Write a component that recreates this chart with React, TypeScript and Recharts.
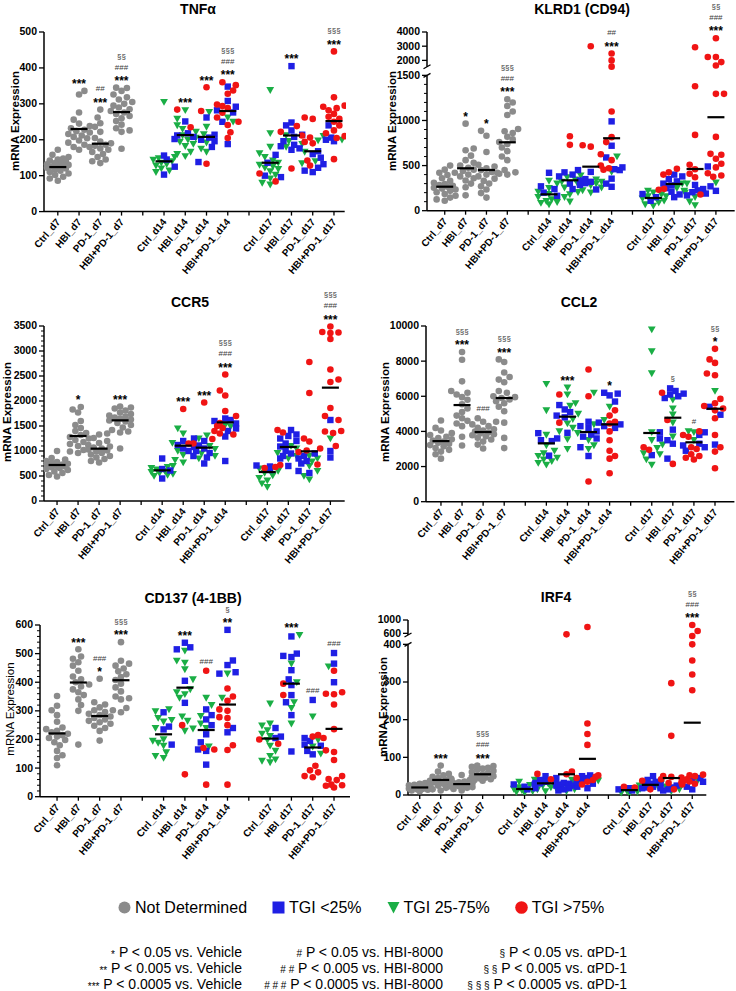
import React from 'react'
import { ScatterChart, Scatter, XAxis, YAxis, ReferenceLine } from 'recharts'

const FONT = '"Liberation Sans", Arial, Helvetica, sans-serif'

const GRAY = '#8b8b8b'
const BLUE = '#1f1fe4'
const GREEN = '#1aae45'
const RED = '#f01414'

const CATEGORIES = [
  'Ctrl_d7', 'HBI_d7', 'PD-1_d7', 'HBI+PD-1_d7',
  'Ctrl_d14', 'HBI_d14', 'PD-1_d14', 'HBI+PD-1_d14',
  'Ctrl_d17', 'HBI_d17', 'PD-1_d17', 'HBI+PD-1_d17',
]

// ---------- TNFα ----------
const tnfNd = [
  [172, 158, 152, 148, 145, 142, 140, 137, 135, 132, 130, 128, 126, 124, 122, 120, 117, 114, 110, 106, 102, 97, 92, 86],
  [336, 326, 276, 256, 245, 238, 232, 228, 224, 220, 216, 212, 208, 204, 198, 192, 186, 180, 172],
  [284, 262, 246, 236, 222, 205, 195, 190, 186, 183, 180, 176, 172, 166, 160, 152, 145, 140, 135],
  [345, 344, 336, 326, 318, 312, 305, 300, 295, 290, 285, 280, 276, 272, 266, 260, 252, 242, 232, 226, 222, 175],
]
const tnfLow = [
  [156, 145, 125, 103],
  [251, 218, 212, 208, 202],
  [262, 214, 206, 200, 196, 180, 138],
  [348, 308, 292, 282, 276, 250, 188],
  [158, 136, 100, 96],
  [405, 248, 240, 226, 214, 208, 196, 186, 182, 176, 172],
  [168, 160, 150, 132, 122, 114, 110],
  [240, 206, 200, 196],
]
const tnfMid = [
  [305, 152, 148, 144, 140, 136, 132, 128, 120, 114, 110],
  [282, 258, 240, 230, 222, 212, 200, 194, 188, 182, 166, 160, 154],
  [277, 236, 215, 205, 192, 175, 166],
  [262, 250],
  [338, 218, 180, 162, 152, 142, 136, 130, 126, 122, 118, 112, 102, 92, 80, 75],
  [212, 196, 188, 180],
  [210, 198, 166, 140, 134],
  [200],
]
const tnfHigh = [
  [],
  [284, 235],
  [346, 280, 133],
  [360, 352, 337, 328, 298, 294, 288, 275, 262, 250, 241, 221, 205],
  [106, 84],
  [238, 222, 120],
  [262, 258, 212, 206, 194, 190, 142, 128],
  [446, 318, 295, 292, 288, 282, 272, 264, 258, 250, 240, 226, 218, 210, 205, 146],
]
const tnfMean = [124, 230, 189, 277, 140, 213, 208, 280, 136, 212, 168, 252]
const tnfSig = [[], ['***'], ['##', '***'], ['§§', '###', '***'], [], ['***'], ['***'], ['§§§', '###', '***'], [], ['***'], [], ['§§§', '***']]

// ---------- KLRD1 (CD94) ----------
const klrdNd = [
  [500, 455, 420, 395, 360, 330, 310, 295, 285, 275, 265, 255, 245, 235, 220, 205, 185, 165, 145, 125, 110],
  [965, 690, 670, 610, 560, 530, 500, 475, 455, 440, 420, 400, 380, 360, 335, 300, 260, 170],
  [885, 830, 650, 510, 490, 470, 450, 430, 420, 400, 380, 355, 330, 300, 270, 235, 195, 145],
  [1235, 1200, 1160, 1100, 1060, 905, 880, 860, 820, 790, 760, 740, 700, 660, 600, 560, 450, 425, 410, 400],
]
const klrdLow = [
  [420, 270, 240, 200, 165],
  [450, 425, 400, 380, 300, 240],
  [430, 350, 335, 320, 305, 285, 235],
  [990, 720, 590, 480, 460, 450, 355, 300, 265],
  [185, 150, 110],
  [400, 380, 350, 325, 300, 280, 250, 210, 180, 150],
  [285, 240, 225, 205, 190, 170],
  [490, 270, 220],
]
const klrdMid = [
  [330, 300, 250, 210, 185, 150, 125, 105, 95, 85, 70],
  [390, 370, 345, 320, 295, 255, 205, 180, 150, 100],
  [345, 320, 300, 280, 255, 225, 200],
  [600, 430],
  [220, 200, 180, 160, 135, 110, 90, 70, 55],
  [300, 250, 200, 160],
  [300, 220, 150, 100, 60],
  [310],
]
const klrdHigh = [
  [],
  [825, 730],
  [3000, 725, 710],
  [2490, 2000, 1560, 1100, 815, 760, 625, 560, 500, 470, 455],
  [242, 232],
  [465, 425, 400],
  [2930, 1380, 840, 510, 460, 410, 370, 180],
  [3560, 2240, 2240, 1880, 1640, 1295, 1295, 818, 630, 620, 575, 520, 480, 415, 390, 375],
]
const klrdMean = [266, 470, 451, 758, 181, 337, 488, 803, 141, 296, 462, 1036]
const klrdSig = [[], ['*'], ['*'], ['§§§', '###', '***'], [], [], [], ['##', '***'], [], [], [], ['§§', '###', '***']]

// ---------- CCR5 ----------
const ccr5Nd = [
  [1000, 860, 830, 800, 780, 760, 745, 730, 715, 700, 690, 675, 660, 640, 620, 590, 560, 520, 490],
  [1880, 1830, 1770, 1600, 1520, 1460, 1400, 1360, 1320, 1280, 1250, 1220, 1180, 1140, 1100, 1060, 1020, 990, 960],
  [1350, 1330, 1260, 1200, 1160, 1120, 1090, 1070, 1050, 1030, 1010, 990, 960, 930, 900, 870, 840, 800, 770],
  [1890, 1870, 1850, 1810, 1770, 1740, 1710, 1690, 1670, 1650, 1630, 1610, 1590, 1560, 1520, 1470, 1420, 1390, 1370, 1050],
]
const ccr5Low = [
  [850, 640, 610, 450],
  [1250, 1200, 1120, 1080, 1050, 1000],
  [1200, 1110, 1050, 1000, 960, 900, 870, 750],
  [1650, 1620, 1600, 1550, 1450, 1400, 1290, 800],
  [710, 690, 620],
  [1420, 1330, 1300, 1250, 1200, 1150, 1090, 1000, 950, 900, 850, 700],
  [950, 900, 850, 800, 750, 600, 560],
  [1620, 1000, 870],
]
const ccr5Mid = [
  [700, 680, 660, 630, 600, 580, 560, 540, 520, 500],
  [1450, 1350, 1160, 1000, 920, 820, 770],
  [1310, 1250, 1100, 1040, 950, 900, 850],
  [1520, 1490],
  [650, 600, 560, 510, 460, 410, 350, 280],
  [1100, 1050, 960, 900, 850],
  [900, 850, 790, 700, 600, 500, 430],
  [1250],
]
const ccr5High = [
  [],
  [1840, 1150],
  [1970, 1240, 1150],
  [2530, 2210, 2110, 1800, 1700, 1560, 1500, 1460, 1400, 1350, 1330],
  [680, 660],
  [1420, 1370, 720],
  [2780, 2160, 1250, 1190, 1050, 1010, 980, 730],
  [3490, 3380, 3370, 3360, 3240, 2630, 2430, 2380, 1860, 1700, 1620, 1400, 1390, 1360, 1100],
]
const ccr5Mean = [720, 1300, 1047, 1613, 613, 1107, 1067, 1573, 580, 1080, 993, 2267]
const ccr5Sig = [[], ['*'], [], ['***'], [], ['***'], ['***'], ['§§§', '###', '***'], [], [], [], ['§§§', '###', '***']]

// ---------- CCL2 ----------
const ccl2Nd = [
  [4620, 4200, 4050, 3900, 3800, 3700, 3620, 3550, 3480, 3420, 3360, 3300, 3220, 3150, 3050, 2950, 2850, 2700, 2450],
  [8520, 8080, 6850, 6300, 6200, 6100, 5950, 5800, 5550, 5300, 5100, 4900, 4750, 4600, 4450, 4300, 3700, 3200],
  [4750, 4550, 4400, 4300, 4200, 4120, 4050, 3990, 3940, 3890, 3840, 3780, 3720, 3640, 3540, 3420, 3250, 3030],
  [8100, 7950, 7350, 7100, 6950, 6800, 6300, 6200, 6000, 5950, 5900, 5820, 5720, 5600, 5400, 5150, 4550, 4500, 3630, 3050],
]
const ccl2Low = [
  [3900, 3600, 3500, 3450, 2620],
  [5500, 5250, 5100, 4900, 4800, 3920],
  [4550, 4300, 4200, 4000, 3820, 3700, 3600, 3100, 2600],
  [6200, 6150, 6050, 5700, 4500, 4400, 4300, 4200],
  [3950, 3600, 2650],
  [6450, 6300, 6150, 6100, 6000, 5900, 4100, 3500, 3300, 2450],
  [3950, 3800, 3300, 3200, 3100, 2900],
  [5400, 4950, 3250],
]
const ccl2Mid = [
  [6700, 5200, 3800, 3200, 2900, 2750, 2600, 2500, 2400, 2300, 2200, 2100],
  [6500, 6100, 5600, 5450, 5000, 4700, 4450, 4200, 4000, 3550, 3000],
  [6200, 4400, 3900, 3500, 3200, 3000],
  [5400, 4650],
  [9800, 8550, 7300, 3950, 3500, 3250, 3050, 2750, 2700, 2400, 2100],
  [5800, 5300, 4950, 4500, 3700],
  [4000, 3950, 3500],
  [6300],
]
const ccl2High = [
  [],
  [6100, 4500],
  [7520, 6000, 1150],
  [5200, 4900, 4550, 4450, 4000, 3500, 2900, 2600, 2450, 1620],
  [3100, 2950],
  [6200, 4650, 2150],
  [4000, 3800, 3700, 3100, 3000, 2700, 2600, 2500, 2400],
  [8700, 8100, 7900, 7300, 7200, 5850, 5600, 5450, 5300, 5200, 4750, 3800, 3100, 2850, 1900],
]
const ccl2Mean = [3450, 5500, 3965, 5900, 3320, 4840, 3965, 4400, 3910, 4780, 3380, 5290]
const ccl2Sig = [[], ['§§§', '***'], ['###'], ['§§§', '***'], [], ['***'], [], ['*'], [], ['§'], ['#'], ['§§', '*']]

// ---------- CD137 (4-1BB) ----------
const cd137Nd = [
  [352, 318, 302, 285, 262, 242, 236, 230, 225, 220, 215, 210, 205, 198, 190, 180, 160, 145, 135, 110],
  [515, 490, 482, 470, 458, 440, 420, 410, 400, 392, 385, 375, 365, 355, 340, 320, 300, 182],
  [412, 330, 322, 312, 302, 296, 290, 285, 280, 275, 270, 265, 260, 255, 248, 240, 230, 196],
  [540, 475, 465, 458, 448, 438, 428, 418, 408, 395, 382, 368, 350, 344, 340, 310, 302, 295],
]
const cd137Low = [
  [295, 245, 235, 182],
  [538, 522, 515, 405, 328],
  [305, 285, 270, 250, 218, 190, 165, 160, 112],
  [583, 476, 460, 435, 430, 240, 225],
  [240, 210, 205],
  [560, 500, 492, 488, 442, 410, 390, 355, 330, 285, 158],
  [338, 205, 195, 182, 178, 160, 148],
  [502, 465, 400],
]
const cd137Mid = [
  [305, 298, 275, 268, 262, 240, 200, 195, 188, 178, 155, 142, 135],
  [510, 475, 468, 445, 410, 375, 365, 358, 345, 280, 265, 238, 230],
  [345, 320, 282, 255, 240, 175],
  [430, 345],
  [325, 255, 248, 232, 220, 212, 198, 178, 160, 142, 130, 125, 120],
  [565, 465, 400, 330, 310, 255],
  [280, 198, 175, 150],
  [455],
]
const cd137High = [
  [],
  [250, 78],
  [440, 170, 165, 42],
  [378, 350, 335, 305, 300, 278, 275, 250, 180, 163, 42],
  [200, 185],
  [395, 355],
  [215, 210, 205, 108, 92, 85, 72, 68],
  [440, 365, 360, 358, 322, 236, 162, 156, 128, 72, 62, 58, 42, 40, 38, 32],
]
const cd137Mean = [221, 399, 282, 407, 218, 381, 233, 322, 203, 395, 172, 237]
const cd137Sig = [[], ['***'], ['###', '*'], ['§§§', '***'], [], ['***'], ['###'], ['§', '**'], [], ['***'], ['###'], ['###']]

// ---------- IRF4 ----------
const irf4Nd = [
  [32, 30, 28, 27, 26, 25, 24, 23, 22, 21, 20, 19, 18, 17, 16, 15, 14, 12, 10],
  [78, 62, 56, 52, 48, 45, 42, 40, 38, 36, 34, 32, 30, 28, 25, 22, 19, 15, 12],
  [53, 44, 40, 36, 34, 32, 31, 30, 29, 28, 27, 26, 25, 23, 21, 19, 16, 12],
  [78, 77, 75, 72, 70, 67, 64, 61, 58, 55, 52, 50, 48, 46, 44, 42, 40, 38],
]
const irf4Low = [
  [32, 28, 22, 18, 15],
  [50, 45, 40, 35, 31, 28, 25],
  [35, 32, 30, 28, 25, 22, 20, 18, 15, 12],
  [52, 50, 45, 40, 35, 30, 18],
  [18, 15, 12],
  [50, 40, 35, 30, 26, 22, 20, 18],
  [30, 25, 20, 18, 15, 12],
  [45, 40, 35, 22, 15],
]
const irf4Mid = [
  [35, 26, 20, 16, 13, 10, 8, 6],
  [40, 35, 30, 25, 20, 15, 10],
  [45, 40, 30, 25, 20, 15, 10],
  [38],
  [16, 12, 9, 6, 4],
  [30, 25, 20],
  [22, 15, 10],
  [38],
]
const irf4High = [
  [],
  [56, 42],
  [570, 62, 55],
  [790, 190, 162, 133, 52, 48, 45, 40, 35, 28],
  [22, 20],
  [42, 38, 15],
  [297, 157, 50, 48, 32, 28, 15],
  [850, 670, 520, 400, 357, 320, 278, 54, 52, 50, 46, 42, 38, 36, 34, 30],
]
const irf4Mean = [20, 40, 29, 55, 16, 31, 55, 96, 13, 27, 45, 192]
const irf4Sig = [[], ['***'], [], ['§§§', '###', '***'], [], [], [], [], [], [], [], ['§§', '###', '***']]

// broken axes: lower part linear, upper part compressed
const klrdScale = (v: number) => (v <= 1525 ? v : 1666 + (v - 2000) * 0.1573)
const irf4Scale = (v: number) => (v <= 450 ? v : 429.2 + (v - 600) * 0.0885)
const linear = (v: number) => v

const range = (a: number, b: number, step: number, skip: number) => {
  const out: number[] = []
  for (let v = a; v <= b; v += step) if (v % skip !== 0) out.push(v)
  return out
}

type Kind = 'nd' | 'low' | 'mid' | 'high'

interface PanelDef {
  title: string
  titleAt: [number, number]
  yLabelAt: [number, number]
  yLabelBold: boolean
  box: { l: number; r: number; t: number; b: number }
  xDomain: [number, number]
  toDisp: (v: number) => number
  yMax: number
  majors: number[]
  minors: number[]
  segments?: [number, number][]
  nd: number[][]
  low: number[][]
  mid: number[][]
  high: number[][]
  mean: number[]
  sig: string[][]
}

const PANELS: PanelDef[] = [
  {
    title: 'TNFα', titleAt: [198, 9], yLabelAt: [16, 121], yLabelBold: true,
    box: { l: 44.3, r: 345, t: 31.7, b: 211.3 }, xDomain: [-0.65, 13.4],
    toDisp: linear, yMax: 500, majors: [0, 100, 200, 300, 400, 500], minors: [],
    nd: tnfNd, low: tnfLow, mid: tnfMid, high: tnfHigh, mean: tnfMean, sig: tnfSig,
  },
  {
    title: 'KLRD1 (CD94)', titleAt: [582, 9], yLabelAt: [393, 121], yLabelBold: true,
    box: { l: 427.3, r: 735, t: 32, b: 210.7 }, xDomain: [-0.85, 13.9],
    toDisp: klrdScale, yMax: 4000, majors: [0, 500, 1000, 1500, 2000, 3000, 4000],
    minors: range(0, 1500, 100, 500), segments: [[0, 1500], [1550, 4000]],
    nd: klrdNd, low: klrdLow, mid: klrdMid, high: klrdHigh, mean: klrdMean, sig: klrdSig,
  },
  {
    title: 'CCR5', titleAt: [190, 302], yLabelAt: [8, 412], yLabelBold: true,
    box: { l: 44.3, r: 345, t: 325.7, b: 500.7 }, xDomain: [-0.62, 13.68],
    toDisp: linear, yMax: 3500, majors: [0, 500, 1000, 1500, 2000, 2500, 3000, 3500],
    minors: range(0, 3500, 100, 500),
    nd: ccr5Nd, low: ccr5Low, mid: ccr5Mid, high: ccr5High, mean: ccr5Mean, sig: ccr5Sig,
  },
  {
    title: 'CCL2', titleAt: [579, 302], yLabelAt: [386, 412], yLabelBold: true,
    box: { l: 426.3, r: 734.7, t: 326, b: 501.7 }, xDomain: [-0.71, 13.92],
    toDisp: linear, yMax: 10000, majors: [0, 2000, 4000, 6000, 8000, 10000], minors: [],
    nd: ccl2Nd, low: ccl2Low, mid: ccl2Mid, high: ccl2High, mean: ccl2Mean, sig: ccl2Sig,
  },
  {
    title: 'CD137 (4-1BB)', titleAt: [193, 598], yLabelAt: [11, 709], yLabelBold: false,
    box: { l: 40, r: 350, t: 625, b: 796.7 }, xDomain: [-0.8, 13.75],
    toDisp: linear, yMax: 600, majors: [0, 100, 200, 300, 400, 500, 600],
    minors: range(0, 600, 20, 100),
    nd: cd137Nd, low: cd137Low, mid: cd137Mid, high: cd137High, mean: cd137Mean, sig: cd137Sig,
  },
  {
    title: 'IRF4', titleAt: [556, 597], yLabelAt: [384, 707], yLabelBold: true,
    box: { l: 408, r: 706.3, t: 620, b: 795 }, xDomain: [-0.56, 13.67],
    toDisp: irf4Scale, yMax: 1000, majors: [0, 100, 200, 300, 400, 600, 1000], minors: [],
    segments: [[0, 400], [550, 1000]],
    nd: irf4Nd, low: irf4Low, mid: irf4Mid, high: irf4High, mean: irf4Mean, sig: irf4Sig,
  },
]

const slotOf = (i: number) => i + Math.floor(i / 4)
const X_TICKS = Array.from({ length: 14 }, (_, i) => i)
const keyOf = (d: number) => Math.round(d * 1000)

interface Item { v: number; k: Kind; dx: number; py: number }

function groupItems(def: PanelDef, i: number): Item[] {
  const mk = (vals: number[], k: Kind) => vals.map(v => ({ v, k, dx: 0, py: 0 }))
  if (i < 4) return mk(def.nd[i], 'nd')
  const j = i - 4
  return [...mk(def.mid[j], 'mid'), ...mk(def.low[j], 'low'), ...mk(def.high[j], 'high')]
}

// simple beeswarm: spread points sideways so they don't sit on top of each other
function swarm(items: Item[], toDisp: (v: number) => number, yPx: number) {
  items.forEach(it => { it.py = toDisp(it.v) * yPx })
  const order = [...items].sort((a, b) => a.py - b.py)
  const placed: Item[] = []
  const STEP = 2.7, MAXN = 4, MIND = 6
  order.forEach((it, n) => {
    let best = 0
    let bestD = -1
    for (let i = 0; i <= MAXN * 2; i++) {
      const mag = Math.ceil(i / 2) * STEP
      const sign = (i % 2 === 1) === (n % 2 === 0) ? 1 : -1
      const off = i === 0 ? 0 : mag * sign
      let d = Infinity
      for (const p of placed) d = Math.min(d, Math.hypot(p.dx - off, p.py - it.py))
      if (d >= MIND) { best = off; bestD = d; break }
      if (d > bestD) { bestD = d; best = off }
    }
    it.dx = best
    placed.push(it)
  })
  return items
}

const grayDot = (p: any) => <circle cx={p.cx} cy={p.cy} r={3.3} fill={GRAY} />
const redDot = (p: any) => <circle cx={p.cx} cy={p.cy} r={3.3} fill={RED} />
const blueSquare = (p: any) => <rect x={p.cx - 3.2} y={p.cy - 3.2} width={6.4} height={6.4} fill={BLUE} />
const greenTri = (p: any) => (
  <polygon points={`${p.cx - 3.9},${p.cy - 3.1} ${p.cx + 3.9},${p.cy - 3.1} ${p.cx},${p.cy + 3.8}`} fill={GREEN} />
)
const meanBar = (p: any) => (
  <line x1={p.cx - 8.5} x2={p.cx + 8.5} y1={p.cy} y2={p.cy} stroke="#000" strokeWidth={2.2} />
)
const noteShape = (p: any) => {
  const lines: string[] = p.payload?.lines ?? p.lines ?? []
  const n = lines.length
  return (
    <g>
      {lines.map((s, j) => {
        const c = p.cy - 10 - (n - 1 - j) * 11
        const star = s.startsWith('*')
        const fs = star ? 12 : 8
        return (
          <text key={j} x={p.cx} y={c + (star ? 0.6 : 0.36) * fs} textAnchor="middle" fontFamily={FONT}
            fontSize={fs} fontWeight={star ? 700 : 400} fill={star ? '#000' : '#3c3c3c'}>
            {s}
          </text>
        )
      })}
    </g>
  )
}

function XTick(props: any) {
  const { x, y, payload } = props
  const slot = payload.value as number
  const idx = slot % 5 === 4 ? -1 : slot - Math.floor(slot / 5)
  const label = idx >= 0 ? CATEGORIES[idx] : ''
  const ax = x + 1, ay = y + 9
  return (
    <g>
      <line x1={x} x2={x} y1={y} y2={y + 4} stroke="#000" strokeWidth={1.3} />
      {label && (
        <text x={ax} y={ay} transform={`rotate(-50 ${ax} ${ay})`} textAnchor="end" dominantBaseline="middle"
          fontFamily={FONT} fontSize={10} fontWeight={700} fill="#000">
          {label}
        </text>
      )}
    </g>
  )
}

function YTick(props: any) {
  const { x, y, payload, labels } = props
  const label = labels.get(keyOf(payload.value))
  if (label === undefined) {
    return <line x1={x - 3} x2={x} y1={y} y2={y} stroke="#000" strokeWidth={1} />
  }
  return (
    <g>
      <line x1={x - 5} x2={x} y1={y} y2={y} stroke="#000" strokeWidth={1.3} />
      <text x={x - 7} y={y} textAnchor="end" dominantBaseline="central" fontFamily={FONT}
        fontSize={10.5} fontWeight={700} fill="#000">
        {label}
      </text>
    </g>
  )
}

function Panel({ def }: { def: PanelDef }) {
  const { box, xDomain, toDisp } = def
  const YW = 40, MT = 40, XH = 80, MR = 1
  const left = box.l - YW
  const top = box.t - MT
  const width = box.r - left + MR
  const height = box.b - top + XH
  const slotPx = (box.r - box.l) / (xDomain[1] - xDomain[0])
  const yTop = toDisp(def.yMax)
  const yPx = (box.b - box.t) / yTop

  const pts: Record<Kind, { x: number; y: number }[]> = { nd: [], low: [], mid: [], high: [] }
  const tops: number[] = []
  CATEGORIES.forEach((_, i) => {
    const items = swarm(groupItems(def, i), toDisp, yPx)
    items.forEach(it => pts[it.k].push({ x: slotOf(i) + it.dx / slotPx, y: toDisp(it.v) }))
    tops.push(Math.max(...items.map(it => toDisp(it.v))))
  })
  const means = def.mean.map((m, i) => ({ x: slotOf(i), y: toDisp(m) }))
  const notes = def.sig
    .map((lines, i) => ({ x: slotOf(i), y: tops[i], lines }))
    .filter(n => n.lines.length > 0)

  const labels = new Map<number, string>()
  def.majors.forEach(v => labels.set(keyOf(toDisp(v)), String(v)))
  const yTicks = [...def.majors, ...def.minors].map(toDisp).sort((a, b) => a - b)

  const x0 = xDomain[0]
  const bx = 3.5 / slotPx
  const by = 2 / yPx

  return (
    <>
      <div style={{ position: 'absolute', left, top, width, height }}>
        <ScatterChart width={width} height={height} margin={{ top: MT, right: MR, bottom: 0, left: 0 }}>
          <XAxis
            type="number" dataKey="x" domain={xDomain} ticks={X_TICKS} interval={0}
            height={XH} tickSize={0} tickMargin={0} tickLine={false}
            axisLine={{ stroke: '#000', strokeWidth: 1.5 }}
            tick={(p: any) => <XTick {...p} />}
          />
          <YAxis
            type="number" dataKey="y" domain={[0, yTop]} ticks={yTicks} interval={0}
            width={YW} tickSize={0} tickMargin={0} tickLine={false}
            axisLine={def.segments ? false : { stroke: '#000', strokeWidth: 1.5 }}
            tick={(p: any) => <YTick {...p} labels={labels} />}
          />
          {def.segments?.map(([a, b], i) => (
            <ReferenceLine key={`s${i}`} ifOverflow="visible" stroke="#000" strokeWidth={1.5}
              segment={[{ x: x0, y: toDisp(a) }, { x: x0, y: toDisp(b) }]} />
          ))}
          {def.segments?.map(([a, b], i) => {
            const d = i === 0 ? toDisp(b) : toDisp(a)
            return (
              <ReferenceLine key={`b${i}`} ifOverflow="visible" stroke="#000" strokeWidth={1.3}
                segment={[{ x: x0 - bx, y: d - by }, { x: x0 + bx, y: d + by }]} />
            )
          })}
          <Scatter data={pts.nd} shape={grayDot} isAnimationActive={false} />
          <Scatter data={pts.mid} shape={greenTri} isAnimationActive={false} />
          <Scatter data={pts.low} shape={blueSquare} isAnimationActive={false} />
          <Scatter data={pts.high} shape={redDot} isAnimationActive={false} />
          <Scatter data={means} shape={meanBar} isAnimationActive={false} />
          <Scatter data={notes} shape={noteShape} isAnimationActive={false} />
        </ScatterChart>
      </div>
      <div style={{
        position: 'absolute', left: def.titleAt[0], top: def.titleAt[1],
        transform: 'translate(-50%, -50%)', fontSize: 14, fontWeight: 700,
        whiteSpace: 'nowrap', lineHeight: 1,
      }}>
        {def.title}
      </div>
      <div style={{
        position: 'absolute', left: def.yLabelAt[0], top: def.yLabelAt[1],
        transform: 'translate(-50%, -50%) rotate(-90deg)', fontSize: 11.5,
        fontWeight: def.yLabelBold ? 700 : 400, whiteSpace: 'nowrap', lineHeight: 1,
      }}>
        mRNA Expression
      </div>
    </>
  )
}

const LEGEND = [
  { label: 'Not Determined', kind: 'nd' },
  { label: 'TGI <25%', kind: 'low' },
  { label: 'TGI 25-75%', kind: 'mid' },
  { label: 'TGI >75%', kind: 'high' },
]

const FOOT_VEHICLE = [['*', 'P < 0.05 vs. Vehicle'], ['**', 'P < 0.005 vs. Vehicle'], ['***', 'P < 0.0005 vs. Vehicle']]
const FOOT_HBI = [['#', 'P < 0.05 vs. HBI-8000'], ['# #', 'P < 0.005 vs. HBI-8000'], ['# # #', 'P < 0.0005 vs. HBI-8000']]
const FOOT_PD1 = [['§', 'P < 0.05 vs. αPD-1'], ['§ §', 'P < 0.005 vs. αPD-1'], ['§ § §', 'P < 0.0005 vs. αPD-1']]

function LegendMark({ kind }: { kind: string }) {
  return (
    <svg width={13} height={13} style={{ display: 'block' }}>
      {kind === 'nd' && <circle cx={6.5} cy={6.5} r={6} fill={GRAY} />}
      {kind === 'low' && <rect x={0.5} y={0.5} width={12} height={12} fill={BLUE} />}
      {kind === 'mid' && <polygon points="0.5,1 12.5,1 6.5,12.5" fill={GREEN} />}
      {kind === 'high' && <circle cx={6.5} cy={6.5} r={6.3} fill={RED} />}
    </svg>
  )
}

function FootColumn({ rows, right }: { rows: string[][]; right: number }) {
  return (
    <div style={{ position: 'absolute', left: 0, width: right, top: 943.7, textAlign: 'right', fontSize: 14 }}>
      {rows.map(([sym, text]) => (
        <div key={text} style={{ whiteSpace: 'nowrap', height: 16, lineHeight: '16px' }}>
          <span style={{
            fontSize: 10, lineHeight: 0, position: 'relative',
            top: sym.startsWith('*') ? 1.5 : 0,
          }}>
            {sym}
          </span>{' '}{text}
        </div>
      ))}
    </div>
  )
}

export default function App() {
  return (
    <div style={{
      position: 'absolute', left: 0, top: 0, width: 736, height: 991, overflow: 'hidden',
      background: '#fff', fontFamily: FONT, color: '#000',
    }}>
      {PANELS.map(p => <Panel key={p.title} def={p} />)}
      <div style={{ position: 'absolute', left: 118, top: 897.7, height: 20, display: 'flex', alignItems: 'center', fontSize: 16 }}>
        {LEGEND.map((l, i) => (
          <div key={l.label} style={{ display: 'flex', alignItems: 'center', marginLeft: i === 0 ? 0 : 25 }}>
            <LegendMark kind={l.kind} />
            <span style={{ marginLeft: 4, whiteSpace: 'nowrap' }}>{l.label}</span>
          </div>
        ))}
      </div>
      <FootColumn rows={FOOT_VEHICLE} right={242} />
      <FootColumn rows={FOOT_HBI} right={443} />
      <FootColumn rows={FOOT_PD1} right={627} />
    </div>
  )
}
